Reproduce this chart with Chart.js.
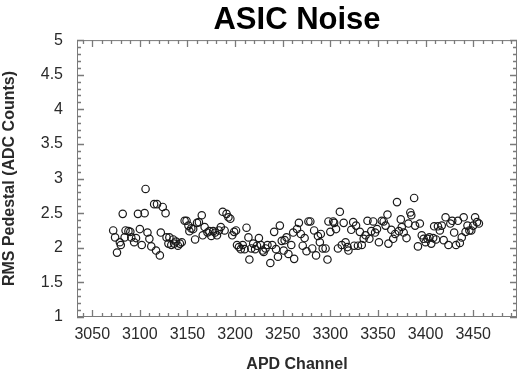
<!DOCTYPE html>
<html>
<head>
<meta charset="utf-8">
<script src="https://cdn.jsdelivr.net/npm/chart.js@4/dist/chart.umd.min.js"></script>
<style>
  html, body { margin: 0; padding: 0; background: #fff; }
  #wrap { width: 525px; height: 374px; }
</style>
</head>
<body>
<div id="wrap"><canvas id="noiseChart"></canvas></div>
<script>
// ================================
// Data
// ================================

const channels = [
  3072, 3074, 3076, 3079, 3080, 3082, 3084, 3085, 3088, 3090, 3091, 3094, 3096, 3098, 3100, 3102,
  3105, 3106, 3108, 3110, 3112, 3115, 3117, 3118, 3121, 3122, 3124, 3127, 3128, 3130, 3131, 3133,
  3135, 3136, 3138, 3140, 3142, 3144,
  3147, 3149, 3151, 3152, 3154, 3156, 3158, 3160, 3162, 3165, 3166, 3168, 3171, 3173, 3175, 3177,
  3179, 3181, 3183, 3185, 3187, 3189, 3191, 3193, 3195, 3197, 3199, 3201,
  3202, 3204, 3206, 3208, 3210, 3212, 3214, 3215, 3217, 3219, 3221, 3223, 3225, 3227, 3229, 3230,
  3232, 3234, 3237, 3239, 3241, 3243, 3245, 3247, 3249, 3251, 3252, 3254, 3256, 3259, 3261, 3262,
  3265, 3267, 3269, 3271, 3273, 3275, 3277, 3279, 3281, 3283, 3285, 3287, 3289, 3290, 3292, 3295,
  3297, 3298, 3300,
  3303, 3304, 3306, 3308, 3310, 3312, 3314, 3316, 3318, 3319, 3322, 3324, 3325, 3327, 3329, 3331,
  3333, 3335, 3337, 3339, 3341, 3343, 3345, 3347, 3349, 3351, 3354, 3356, 3358, 3360, 3361, 3364,
  3366, 3368, 3370, 3372, 3374, 3375, 3377, 3380, 3382, 3384, 3385, 3388, 3389, 3392, 3394,
  3396, 3398, 3400, 3402, 3404, 3406, 3408, 3409, 3411, 3413, 3415, 3417, 3419, 3421, 3424, 3426,
  3428, 3430, 3432, 3434, 3436, 3438, 3440, 3442, 3444, 3446, 3448, 3450, 3452, 3454, 3456
]

const rmsPedestal = [
  2.25, 2.15, 1.93, 2.08, 2.04, 2.49, 2.15, 2.25, 2.24, 2.23, 2.15, 2.08, 2.14, 2.49, 2.27, 2.04,
  2.50, 2.85, 2.22, 2.13, 2.02, 2.63, 1.96, 2.63, 1.89, 2.22, 2.59, 2.50, 2.15, 2.06, 2.15, 2.04,
  2.12, 2.06, 2.09, 2.03, 2.06, 2.08,
  2.39, 2.39, 2.32, 2.24, 2.28, 2.27, 2.12, 2.36, 2.37, 2.47, 2.18, 2.30, 2.22, 2.24, 2.17, 2.24,
  2.22, 2.18, 2.25, 2.30, 2.52, 2.25, 2.49, 2.44, 2.42, 2.18, 2.23, 2.25,
  2.04, 2.01, 1.98, 2.04, 1.98, 2.29, 2.15, 1.83, 1.99, 2.06, 1.98, 2.03, 2.14, 2.04, 1.96, 1.94,
  1.99, 2.04, 1.78, 2.04, 2.23, 1.98, 1.87, 2.32, 2.10, 1.96, 2.11, 2.15, 1.91, 2.04, 2.22, 1.84,
  2.27, 2.36, 2.20, 2.03, 2.14, 1.95, 2.38, 2.38, 1.99, 2.25, 1.89, 2.17, 2.08, 2.20, 1.99, 1.99,
  1.83, 2.38, 2.23,
  2.38, 2.36, 2.27, 1.99, 2.52, 2.04, 2.36, 2.08, 2.01, 1.96, 2.26, 2.37, 2.03, 2.32, 2.03, 2.23,
  2.04, 2.13, 2.18, 2.39, 2.13, 2.24, 2.38, 2.22, 2.27, 2.08, 2.39, 2.38, 2.32, 2.48, 2.06, 2.26,
  2.13, 2.20, 2.66, 2.24, 2.41, 2.30, 2.22, 2.14, 2.35, 2.51, 2.47, 2.72, 2.32, 2.02, 2.35,
  2.18, 2.13, 2.08, 2.13, 2.15, 2.06, 2.14, 2.31, 2.12, 2.31, 2.25, 2.32, 2.11, 2.44, 2.04, 2.35,
  2.39, 2.22, 2.04, 2.39, 2.07, 2.15, 2.44, 2.23, 2.32, 2.25, 2.25, 2.32, 2.44, 2.37, 2.35
]

const xRange = [3034, 3496]
const yRange = [1, 5]
const xTickStep = 10
const yTickStep = 0.1

// --- Theme ---
const fontFamily = "'Liberation Sans', Arial, sans-serif"
const frameColor = "#7a7a7a"
const labelColor = "#2a2a2a"

// ================================
// Inward ticks + frame (IDL style)
// ================================

// tick values are walked along each scale, positions come from the scale itself
function tickValues(min, max, step) {
  let out = []
  let first = Math.ceil(min / step - 1e-9)
  let last = Math.floor(max / step + 1e-9)
  for (let k = first; k <= last; k++) out.push(k)
  return out
}

const frameTicks = {
  id: "frameTicks",
  afterDatasetsDraw(chart) {
    const ctx = chart.ctx
    const area = chart.chartArea
    const xs = chart.scales.x
    const ys = chart.scales.y

    ctx.save()
    ctx.strokeStyle = frameColor
    ctx.lineWidth = 1.3
    ctx.beginPath()

    for (let k of tickValues(xs.min, xs.max, xTickStep)) {
      let v = k * xTickStep
      let len = (v % 50 === 0) ? 7 : 4
      let px = Math.round(xs.getPixelForValue(v)) + 0.5
      ctx.moveTo(px, area.bottom)
      ctx.lineTo(px, area.bottom - len)
      ctx.moveTo(px, area.top)
      ctx.lineTo(px, area.top + len)
    }

    for (let k of tickValues(ys.min, ys.max, yTickStep)) {
      let len = (k % 5 === 0) ? 7 : 4
      let py = Math.round(ys.getPixelForValue(k * yTickStep)) + 0.5
      ctx.moveTo(area.left, py)
      ctx.lineTo(area.left + len, py)
      ctx.moveTo(area.right, py)
      ctx.lineTo(area.right - len, py)
    }

    ctx.stroke()
    ctx.lineWidth = 1
    ctx.strokeRect(area.left + 0.5, area.top + 0.5, area.right - area.left - 1, area.bottom - area.top - 1)
    ctx.restore()
  }
}

// ================================
// Chart
// ================================

const points = channels.map((c, i) => ({ x: c, y: rmsPedestal[i] }))

new Chart(document.getElementById("noiseChart"), {

  type: "scatter",

  data: {
    datasets: [{
      data: points,
      pointStyle: "circle",
      pointRadius: 3.7,
      pointBorderWidth: 1.2,
      pointBorderColor: "#1a1a1a",
      pointBackgroundColor: "rgba(0,0,0,0)"
    }]
  },

  options: {
    responsive: true,
    maintainAspectRatio: false,
    animation: false,
    layout: { padding: { left: 0, right: 8, top: 0, bottom: 0 } },

    plugins: {
      legend: { display: false },
      tooltip: { enabled: false },
      title: {
        display: true,
        fullSize: false,
        text: "ASIC Noise",
        color: "#000",
        font: { family: fontFamily, size: 31, weight: "bold", lineHeight: 1.1 },
        padding: { top: 3, bottom: 3 }
      }
    },

    scales: {

      x: {
        type: "linear",
        min: xRange[0],
        max: xRange[1],
        grid: { display: false, drawTicks: false },
        border: { display: false },
        ticks: {
          stepSize: 50,
          includeBounds: false,
          autoSkip: false,
          maxRotation: 0,
          minRotation: 0,
          padding: 8,
          color: labelColor,
          font: { family: fontFamily, size: 16 },
          callback: (v) => String(Math.round(v))
        },
        title: {
          display: true,
          text: "APD Channel",
          color: labelColor,
          font: { family: fontFamily, size: 16, weight: "bold" },
          padding: { top: 4, bottom: 0 }
        },
        afterFit: (scale) => { scale.height = 57 }
      },

      y: {
        min: yRange[0],
        max: yRange[1],
        grid: { display: false, drawTicks: false },
        border: { display: false },
        ticks: {
          stepSize: 0.5,
          includeBounds: false,
          autoSkip: false,
          padding: 14,
          color: labelColor,
          font: { family: fontFamily, size: 16 },
          callback: (v) => String(Number(v.toFixed(1)))
        },
        title: {
          display: true,
          text: "RMS Pedestal (ADC Counts)",
          color: labelColor,
          font: { family: fontFamily, size: 16, weight: "bold" },
          padding: { top: 0, bottom: 4 }
        },
        afterFit: (scale) => { scale.width = 77 }
      }

    }
  },

  plugins: [frameTicks]

})
</script>
</body>
</html>
